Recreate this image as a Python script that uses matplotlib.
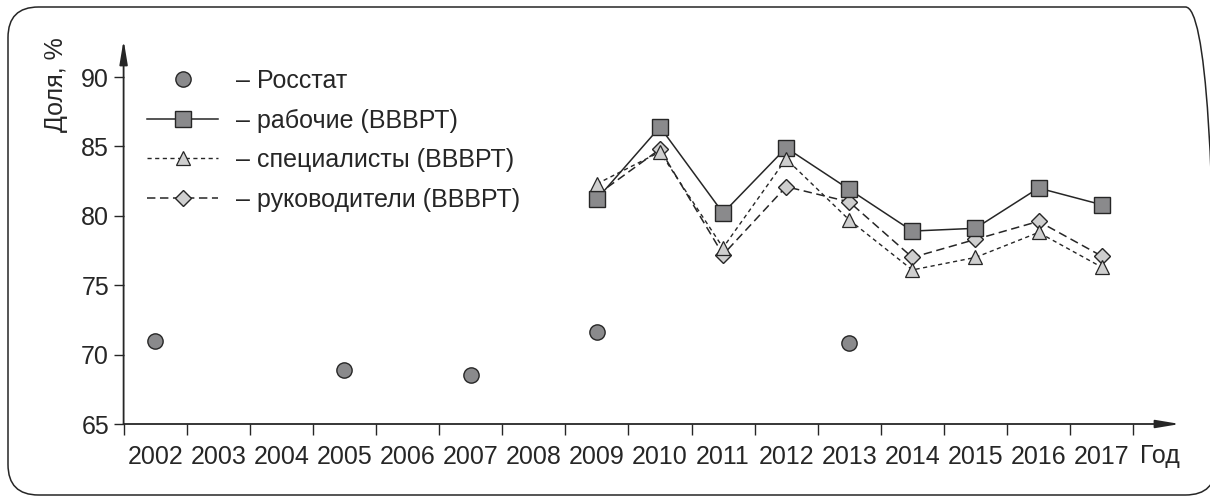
import numpy as np
import matplotlib.pyplot as plt
from matplotlib.lines import Line2D
from matplotlib.patches import FancyBboxPatch

plt.rcParams['font.family'] = ['Liberation Sans', 'DejaVu Sans']

# данные
years = np.arange(2002, 2018)
rosstat_years = [2002, 2005, 2007, 2009, 2013]
rosstat = [71.0, 68.9, 68.5, 71.6, 70.8]
vvvrt_years = np.arange(2009, 2018)
workers = [81.2, 86.4, 80.2, 84.9, 81.9, 78.9, 79.1, 82.0, 80.8]
specialists = [82.3, 84.6, 77.7, 84.1, 79.7, 76.1, 77.0, 78.8, 76.3]
managers = [81.5, 84.8, 77.2, 82.1, 81.0, 77.0, 78.3, 79.6, 77.1]
labels = ['– Росстат', '– рабочие (ВВВРТ)', '– специалисты (ВВВРТ)',
          '– руководители (ВВВРТ)']

W, H = 1210, 497
ink = '#262626'
dark_fill = '#8a8a8c'
light_fill = '#cfcfcf'
fs = 18

fig = plt.figure(figsize=(W / 100, H / 100), dpi=100)
ax = fig.add_axes([123.6 / W, 73 / H, (1180 - 123.6) / W, (424 - 40) / H])

ax.set_xlim(2001.5, 2001.5 + (1180 - 123.6) / 63.1)
ax.set_ylim(65, 65 + 384 / 13.88)

# рамка со скруглёнными углами (правый край уходит за кадр)
frame = FancyBboxPatch((8, 2), 1216 - 8, 490 - 2,
                       boxstyle='round,pad=0,rounding_size=30.5',
                       transform=None, fill=False, ec=ink, lw=1.1, clip_on=False)
fig.add_artist(frame)

# серии
ax.plot(vvvrt_years, managers, ls=(0, (5.5, 3)), color=ink, lw=1.1,
        marker='D', ms=8, mfc=light_fill, mec=ink, mew=1, zorder=3, clip_on=False)
ax.plot(vvvrt_years, workers, ls='-', color=ink, lw=1.1,
        marker='s', ms=11.5, mfc=dark_fill, mec=ink, mew=1, zorder=4, clip_on=False)
ax.plot(vvvrt_years, specialists, ls=(0, (3, 2.5)), color=ink, lw=1.0,
        marker='^', ms=10.5, mfc=light_fill, mec=ink, mew=0.9, zorder=5, clip_on=False)
ax.plot(rosstat_years, rosstat, ls='none', marker='o', ms=11,
        mfc=dark_fill, mec=ink, mew=1, zorder=4, clip_on=False)

# оси со стрелками
for sp in ax.spines.values():
    sp.set_visible(False)
arrow = dict(arrowstyle='-|>,head_length=0.9,head_width=0.15', color=ink,
             lw=1.3, shrinkA=0, shrinkB=0, mutation_scale=16)
ax.annotate('', xy=(1, 0), xytext=(0, 0), xycoords='axes fraction', arrowprops=arrow)
ax.annotate('', xy=(0, 1), xytext=(0, 0), xycoords='axes fraction', arrowprops=arrow)

ax.set_xticks(years)
ax.set_xticklabels([str(y) for y in years])
ax.set_xticks(np.arange(2001.5, 2018, 1), minor=True)
ax.tick_params(axis='x', which='major', length=0, pad=15, labelsize=fs, labelcolor=ink)
ax.tick_params(axis='x', which='minor', length=8, width=1, color=ink)
ax.set_yticks(range(65, 91, 5))
ax.tick_params(axis='y', length=7.5, width=1, pad=3, labelsize=fs,
               color=ink, labelcolor=ink)

fig.text(56 / W, 1 - 85 / H, 'Доля, %', rotation=90, ha='center', va='center',
         fontsize=fs, color=ink)
fig.text(1160 / W, 1 - 456 / H, 'Год', ha='center', va='center',
         fontsize=fs, color=ink)

# легенда
handles = [
    Line2D([], [], ls='none', marker='o', ms=11, mfc=dark_fill, mec=ink, mew=1),
    Line2D([], [], ls='-', color=ink, lw=1.1, marker='s', ms=11.5,
           mfc=dark_fill, mec=ink, mew=1),
    Line2D([], [], ls=(0, (3, 2.5)), color=ink, lw=1.0, marker='^', ms=10.5,
           mfc=light_fill, mec=ink, mew=0.9),
    Line2D([], [], ls=(0, (5.5, 3)), color=ink, lw=1.1, marker='D', ms=8,
           mfc=light_fill, mec=ink, mew=1),
]
leg = fig.legend(handles, labels, loc='upper left',
                 bbox_to_anchor=(147 / W, 1 - 69 / H), frameon=False,
                 fontsize=fs, handlelength=2.85, handletextpad=0.7,
                 labelspacing=0.62, borderpad=0, borderaxespad=0, numpoints=1)
for t in leg.get_texts():
    t.set_color(ink)

fig.savefig('out.png', dpi=100)
